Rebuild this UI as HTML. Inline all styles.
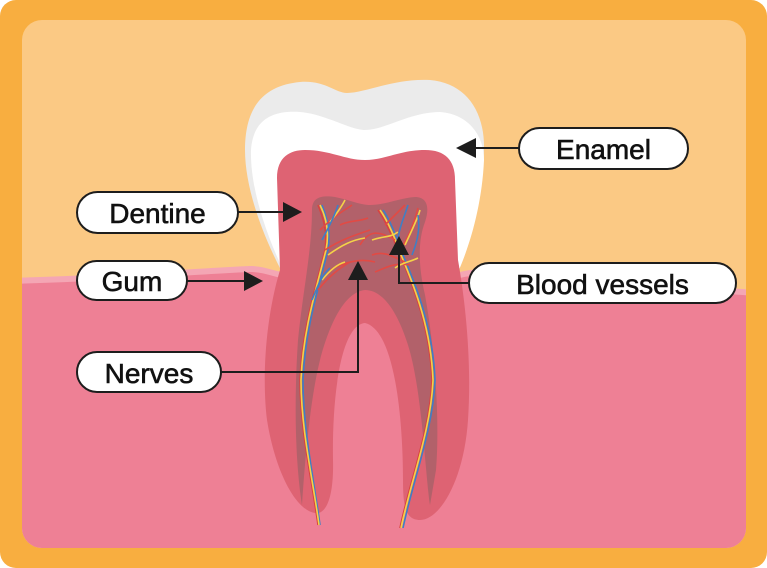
<!DOCTYPE html>
<html><head><meta charset="utf-8"><style>
html,body{margin:0;padding:0;background:#fff}
svg{display:block}
text{font-family:"Liberation Sans",sans-serif;font-size:28px;fill:#111;stroke:#111;stroke-width:0.6}
</style></head><body>
<svg width="767" height="568" viewBox="0 0 767 568" xmlns="http://www.w3.org/2000/svg">
<rect x="0" y="0" width="767" height="568" rx="16" fill="#f8ae40"/>
<clipPath id="c"><rect x="22" y="20" width="724" height="528" rx="20"/></clipPath>
<g clip-path="url(#c)">
<rect x="22" y="20" width="724" height="528" fill="#fbc984"/>
<path d="M10,278 C120,275 200,268 250,266 C265,266 275,272 285,272 L460,272 C480,266 520,270 600,278 C680,284 720,288 760,290 L760,560 L10,560 Z" fill="#f4a6b4"/>
<path d="M10,284 C120,281 200,274 250,272 C265,272 275,278 285,278 L460,278 C480,272 520,276 600,284 C680,290 720,294 760,296 L760,560 L10,560 Z" fill="#ee8095"/>
</g>
<path d="M282,272 C260,230 245,185 245,150 C245,100 270,85 300,82 C325,80 335,93 347,93 C365,93 395,78 430,80 C465,83 485,110 484,150 C483,200 470,245 458,272 Z" fill="#ebebeb"/>
<path d="M284,272 C264,230 250,185 251,150 C253,120 272,110 300,112 C325,114 350,130 365,130 C385,130 410,112 440,112 C468,114 484,135 484,160 C482,205 470,245 458,272 Z" fill="#ffffff"/>
<path d="M277,178 C277,157 290,150 305,150 C330,150 345,160 365,160 C385,160 400,150 425,150 C445,150 455,160 455,180 L458,260 C465,300 472,360 468,420 C464,480 440,520 420,520 C405,520 403,505 403,480 C403,420 395,330 365,323 C340,325 332,400 333,460 C334,500 325,515 315,513 C295,510 275,470 267,420 C262,380 265,320 280,270 Z" fill="#de6373"/>
<path d="M312,210 C312,198 320,195 335,197 C350,200 360,205 370,205 C385,205 400,198 415,197 C427,197 430,207 425,222 C418,240 418,265 425,295 C435,350 440,420 436,470 L430,505 C425,470 422,390 408,345 C397,310 382,290 365,290 C345,292 330,322 320,360 C310,400 305,460 302,505 C295,460 294,400 298,340 C303,290 312,250 312,210 Z" fill="#b2616a"/>
<g fill="none" stroke-width="1.6">
<path d="M318,525 C312,480 300,430 300,380 C302,330 315,290 325,250 C328,230 322,215 318,205" stroke="#d9423f"/>
<path d="M320,525 C314,480 303,430 303,380 C305,330 318,290 328,250 C331,230 326,215 322,205" stroke="#3f7fc4"/>
<path d="M319,525 C313,480 301,430 301,380 C303,330 316,290 326,250 C330,230 325,215 320,205" stroke="#f4d248"/>
<path d="M400,528 C410,480 430,430 432,380 C430,330 415,290 400,255 C392,235 385,220 378,210" stroke="#d9423f"/>
<path d="M403,528 C413,480 433,430 435,380 C433,330 418,290 403,255 C396,235 390,220 383,210" stroke="#3f7fc4"/>
<path d="M401,528 C411,480 431,430 433,380 C431,330 416,290 401,255 C394,235 387,220 380,210" stroke="#f4d248"/>
<path d="M325,250 C340,240 355,235 370,230 M330,270 C345,262 360,258 375,262 M320,230 C335,215 345,210 352,205 M400,250 C410,235 415,220 418,208 M395,240 C380,232 370,228 360,245 M410,265 C395,262 385,268 375,272 M318,290 C330,275 340,268 350,262 M340,225 C350,220 358,222 368,218 M385,225 C395,215 400,210 405,205 M372,255 C385,250 395,258 405,262" stroke="#e24a44"/>
<path d="M328,255 C342,245 352,240 365,238 M405,245 C412,230 418,218 420,210 M330,222 C338,212 342,206 345,200 M372,240 C382,236 390,238 398,232 M322,280 C330,270 338,264 345,262 M395,268 C403,262 410,262 418,258" stroke="#f4d248"/>
<path d="M322,240 C330,225 335,215 338,205 M398,238 C400,225 405,215 408,205 M312,300 C318,285 322,275 330,268 M412,255 C418,240 420,228 418,215" stroke="#3f7fc4"/>
</g>
<g stroke="#1d1d1d" stroke-width="2" fill="none">
<line x1="519" y1="148" x2="470" y2="148"/>
<line x1="238" y1="212" x2="288" y2="212"/>
<line x1="187" y1="281" x2="248" y2="281"/>
<polyline points="221,372 358,372 358,275"/>
<polyline points="469,283 399,283 399,250"/>
</g>
<g fill="#1d1d1d">
<polygon points="456,148 476,138 476,158"/>
<polygon points="302,212 283,202 283,222"/>
<polygon points="263,281 244,271 244,291"/>
<polygon points="358,261 348,280 368,280"/>
<polygon points="399,236 389,255 409,255"/>
</g>
<g fill="#fff" stroke="#1d1d1d" stroke-width="2">
<rect x="519" y="128" width="169" height="41" rx="20.5"/>
<rect x="77" y="192" width="161" height="41" rx="20.5"/>
<rect x="77" y="261" width="110" height="39" rx="19.5"/>
<rect x="77" y="352" width="144" height="40" rx="20"/>
<rect x="469" y="263" width="267" height="40" rx="20"/>
</g>
<text x="603.5" y="159" text-anchor="middle">Enamel</text>
<text x="157.5" y="223" text-anchor="middle">Dentine</text>
<text x="132" y="291" text-anchor="middle">Gum</text>
<text x="149" y="383" text-anchor="middle">Nerves</text>
<text x="602.5" y="294" text-anchor="middle">Blood vessels</text>
</svg>
</body></html>
